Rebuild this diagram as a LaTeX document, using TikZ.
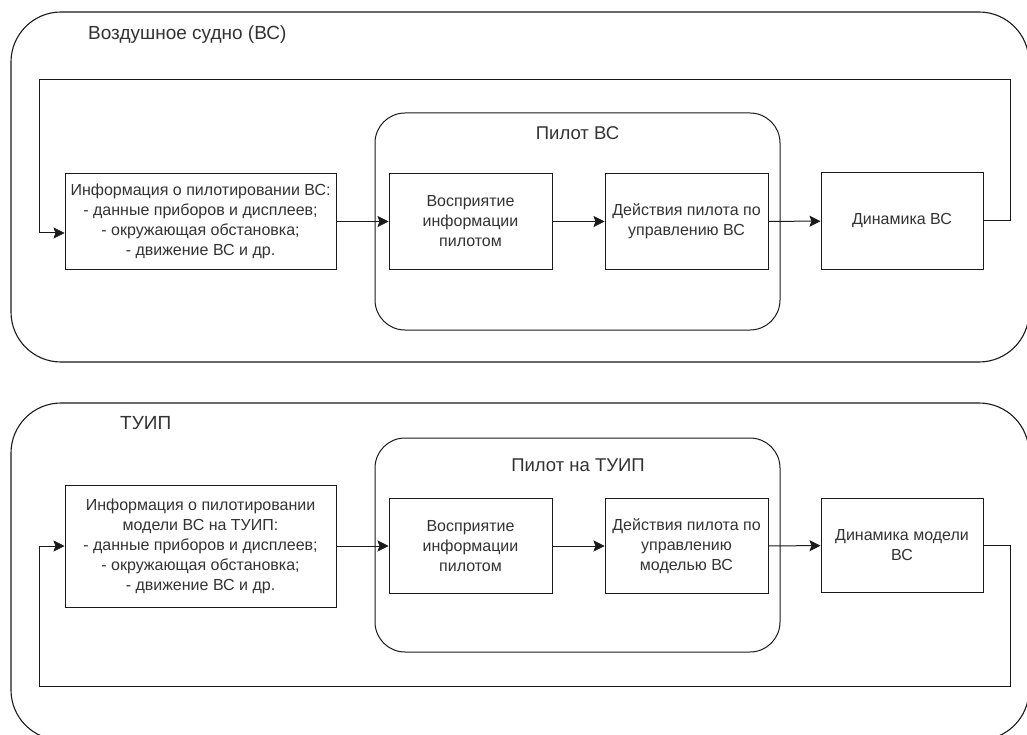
\documentclass[tikz,border=0pt]{standalone}
\usepackage{fontspec}
\setmainfont{Liberation Sans}
\usetikzlibrary{arrows.meta,calc}

\definecolor{ink}{HTML}{1A1A1A}
\definecolor{txt}{HTML}{333333}

\tikzset{
  container/.style={draw=ink, line width=1.1pt, rounded corners=50pt, inner sep=0pt},
  subgroup/.style={draw=ink, line width=1pt, rounded corners=30pt, inner sep=0pt},
  stepbox/.style={draw=ink, line width=1pt, fill=white, inner sep=2pt, align=center,
    text=txt, font=\fontsize{16}{20}\selectfont},
  grouptitle/.style={text=txt, inner sep=0pt, font=\fontsize{19}{22}\selectfont},
  subtitle/.style={text=txt, inner sep=0pt, font=\fontsize{18.5}{22}\selectfont},
  arr/.style={draw=ink, line width=1pt, -{Stealth[length=11pt,width=11pt,inset=2pt,line width=0.6pt]}},
}

\begin{document}
\begin{tikzpicture}[x=1pt,y=-1pt]
\useasboundingbox (0,0) rectangle (1027,735);
\fill[white] (0,0) rectangle (1027,735);

% ---------- aircraft ----------
\node[container, minimum width=1018pt, minimum height=350pt] (ac) at (520,187) {};
\node[grouptitle, anchor=west] (acT) at (88,35) {Воздушное судно (ВС)};
\node[subgroup, minimum width=405pt, minimum height=217pt] (pilA) at (577.5,221.5) {};
\node[subtitle] (pilAT) at (577.5,133) {Пилот ВС};

\node[stepbox, minimum width=271pt, minimum height=95pt] (infoA) at (200.5,221.5)
  {Информация о пилотировании ВС:\\- данные приборов и дисплеев;\\- окружающая обстановка;\\- движение ВС и др.};
\node[stepbox, minimum width=163pt, minimum height=95pt] (percA) at (470.5,221.5)
  {Восприятие\\информации\\пилотом};
\node[stepbox, minimum width=163pt, minimum height=95pt] (actA) at (686.5,221.5)
  {Действия пилота по\\управлению ВС};
\node[stepbox, minimum width=162pt, minimum height=96pt] (dynA) at (902,221)
  {Динамика ВС};

\draw[arr] (infoA) -- (percA);
\draw[arr] (percA) -- (actA);
\draw[arr] (actA) -- (dynA);
\coordinate (fbA1) at (1010,80);
\coordinate (fbA2) at (39,80);
\draw[arr] (dynA.east) -| (fbA1) -- (fbA2) |- ([yshift=-11.5pt]infoA.west);

% ---------- simulator ----------
\node[container, minimum width=1018pt, minimum height=337pt] (sim) at (520,571.5) {};
\node[grouptitle, anchor=west] (simT) at (120,423) {ТУИП};
\node[subgroup, minimum width=405pt, minimum height=214pt] (pilB) at (577.5,545) {};
\node[subtitle] (pilBT) at (578,465) {Пилот на ТУИП};

\node[stepbox, minimum width=271pt, minimum height=122pt] (infoB) at (200.5,546)
  {Информация о пилотировании\\модели ВС на ТУИП:\\- данные приборов и дисплеев;\\- окружающая обстановка;\\- движение ВС и др.};
\node[stepbox, minimum width=163pt, minimum height=95pt] (percB) at (470.5,546)
  {Восприятие\\информации\\пилотом};
\node[stepbox, minimum width=163pt, minimum height=95pt] (actB) at (686.5,546)
  {Действия пилота по\\управлению\\моделью ВС};
\node[stepbox, minimum width=162pt, minimum height=94pt] (dynB) at (902,545.5)
  {Динамика модели\\ВС};

\draw[arr] (infoB) -- (percB);
\draw[arr] (percB) -- (actB);
\draw[arr] (actB) -- (dynB);
\coordinate (fbB1) at (1010,686);
\coordinate (fbB2) at (39,686);
\draw[arr] (dynB.east) -| (fbB1) -- (fbB2) |- (infoB.west);
\end{tikzpicture}
\end{document}
